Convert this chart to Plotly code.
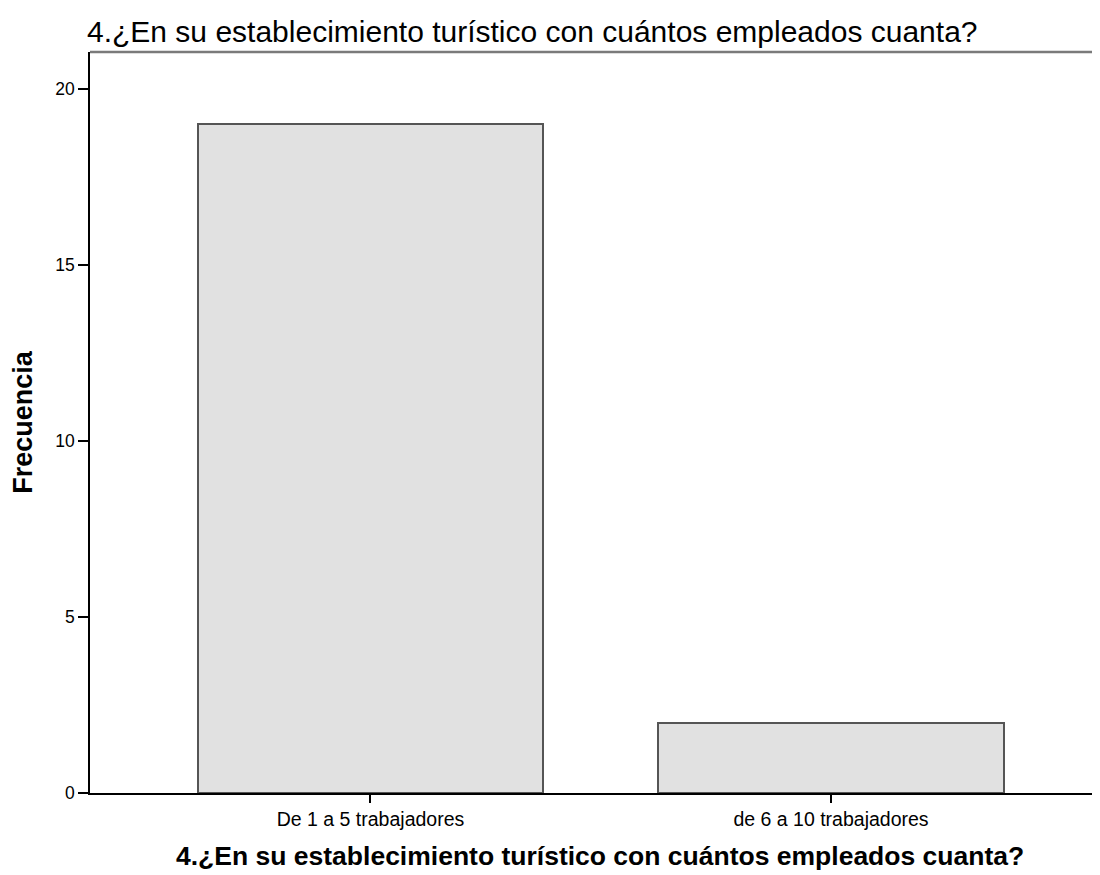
import plotly.graph_objects as go

categories = ["De 1 a 5 trabajadores", "de 6 a 10 trabajadores"]
frecuencias = [19, 2]
y_ticks = [0, 5, 10, 15, 20]
title_text = "4.¿En su establecimiento turístico con cuántos empleados cuanta?"
y_title = "Frecuencia"

FONT = "Liberation Sans, Arial, sans-serif"
W, H = 1092, 867  # page body has an 8px margin
L, T, B = 82, 43.5, 82
PW, PH = W - L, H - T - B

fig = go.Figure()
fig.add_trace(go.Bar(
    x=categories, y=frecuencias, width=0.75,
    marker=dict(color="#e1e1e1", line=dict(color="#555555", width=2)),
    showlegend=False,
))

fig.update_layout(
    width=W, height=H,
    margin=dict(l=L, r=0, t=T, b=B, autoexpand=False),
    paper_bgcolor="white", plot_bgcolor="white",
    font=dict(family=FONT, color="#000000"),
    title=dict(text=title_text, x=79 / W, xanchor="left", xref="container",
               y=1 - 23 / H, yanchor="middle", yref="container",
               font=dict(size=30, family=FONT, color="#000000")),
    bargap=0,
)
fig.update_xaxes(
    type="category", range=[-0.609, 1.584],
    showline=True, linecolor="#000000", linewidth=1.5, mirror=False,
    ticks="outside", ticklen=8, tickwidth=1.5, tickcolor="#000000",
    tickfont=dict(size=19.5, family=FONT, color="#000000"),
    showgrid=False, zeroline=False,
)
fig.update_yaxes(
    range=[0, 21.06], tickvals=y_ticks, ticktext=[str(v) for v in y_ticks],
    showline=True, linecolor="#000000", linewidth=1.5,
    ticks="outside", ticklen=10, tickwidth=1.5, tickcolor="#000000",
    tickfont=dict(size=17.5, family=FONT, color="#000000"),
    showgrid=False, zeroline=False,
)
# top border line
fig.add_shape(type="line", xref="paper", yref="paper", x0=0, x1=1, y0=1, y1=1,
              line=dict(color="#7a7a7a", width=2.5))
# axis titles
fig.add_annotation(text="<b>" + title_text + "</b>", xref="paper", yref="paper",
                   x=(592 - L) / PW, y=0, yshift=-63, xanchor="center", yanchor="middle",
                   showarrow=False, font=dict(size=26.5, family=FONT, color="#000000"))
fig.add_annotation(text="<b>" + y_title + "</b>", xref="paper", yref="paper",
                   x=0, xshift=-67, y=(H - B - 413.5) / PH, xanchor="center", yanchor="middle",
                   textangle=-90, showarrow=False,
                   font=dict(size=27, family=FONT, color="#000000"))

fig.write_html("out.html")
